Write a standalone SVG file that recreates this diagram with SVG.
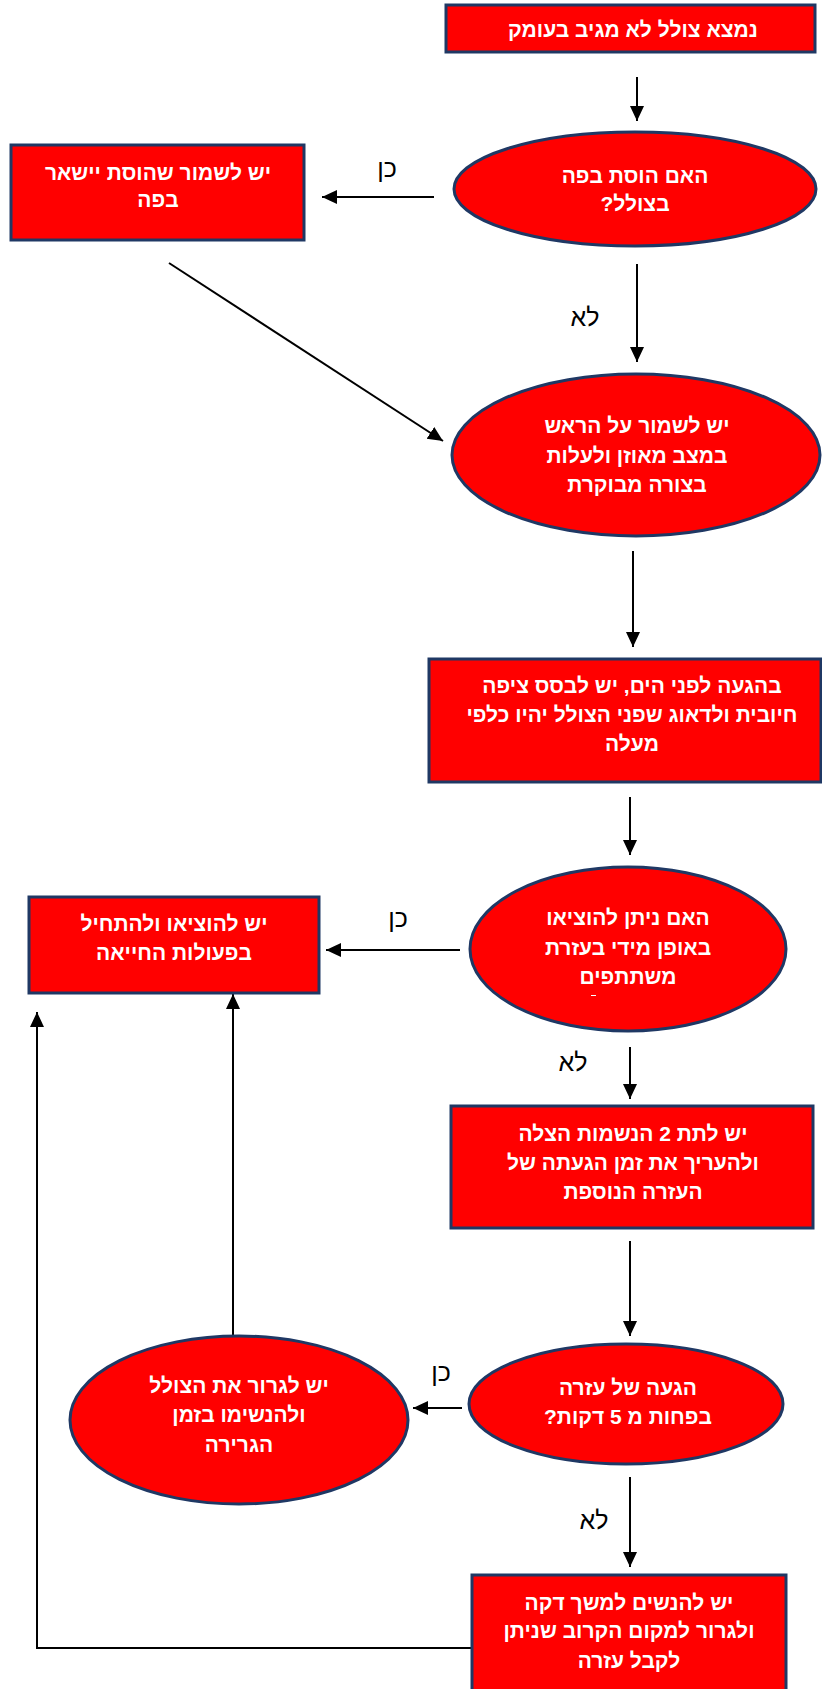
<svg xmlns="http://www.w3.org/2000/svg" width="822" height="1689" viewBox="0 0 822 1689">
<style>
.n{fill:#ff0000;stroke:#1f3864;stroke-width:3}
.t{font-family:"Liberation Sans",Arial,sans-serif;font-weight:bold;font-size:21px;fill:#ffffff;text-anchor:middle;direction:rtl}
.l{font-family:"Liberation Sans",Arial,sans-serif;font-size:25px;fill:#000000;text-anchor:middle;direction:rtl}
.c{fill:none;stroke:#000000;stroke-width:2}
</style>
<defs>
<marker id="ah" markerUnits="userSpaceOnUse" markerWidth="16" markerHeight="16" refX="15" refY="7" orient="auto">
<path d="M0,0 L15,7 L0,14 z" fill="#000000"/>
</marker>
</defs>
<rect width="822" height="1689" fill="#ffffff"/>
<g id="connectors">
<line class="c" x1="637" y1="77" x2="637" y2="121" marker-end="url(#ah)"/>
<line class="c" x1="434" y1="197" x2="322" y2="197" marker-end="url(#ah)"/>
<line class="c" x1="637" y1="264" x2="637" y2="362" marker-end="url(#ah)"/>
<line class="c" x1="169" y1="263" x2="443" y2="441" marker-end="url(#ah)"/>
<line class="c" x1="633" y1="551" x2="633" y2="647" marker-end="url(#ah)"/>
<line class="c" x1="630" y1="797" x2="630" y2="855" marker-end="url(#ah)"/>
<line class="c" x1="460" y1="950" x2="326" y2="950" marker-end="url(#ah)"/>
<line class="c" x1="630" y1="1047" x2="630" y2="1099" marker-end="url(#ah)"/>
<line class="c" x1="630" y1="1241" x2="630" y2="1336" marker-end="url(#ah)"/>
<line class="c" x1="462" y1="1408" x2="413" y2="1408" marker-end="url(#ah)"/>
<line class="c" x1="233" y1="1336" x2="233" y2="994" marker-end="url(#ah)"/>
<line class="c" x1="630" y1="1477" x2="630" y2="1567" marker-end="url(#ah)"/>
<polyline class="c" points="472,1648 37,1648 37,1012" marker-end="url(#ah)"/>
<text class="l" x="387" y="177">כן</text>
<text class="l" x="585" y="326">לא</text>
<text class="l" x="398" y="927">כן</text>
<text class="l" x="573" y="1071">לא</text>
<text class="l" x="441" y="1381">כן</text>
<text class="l" x="594" y="1529">לא</text>
</g>
<g id="n1">
<rect class="n" x="446" y="5" width="369" height="47"/>
<text class="t" x="633" y="37">נמצא צולל לא מגיב בעומק</text>
</g>
<g id="n2">
<ellipse class="n" cx="635" cy="189" rx="181" ry="57"/>
<text class="t" x="635" y="183">האם הוסת בפה</text>
<text class="t" x="635" y="211">בצולל?</text>
</g>
<g id="n3">
<rect class="n" x="11" y="145" width="293" height="95"/>
<text class="t" x="158" y="180">יש לשמור שהוסת יישאר</text>
<text class="t" x="158" y="207">בפה</text>
</g>
<g id="n4">
<ellipse class="n" cx="636" cy="455" rx="184" ry="81"/>
<text class="t" x="637" y="433">יש לשמור על הראש</text>
<text class="t" x="637" y="463">במצב מאוזן ולעלות</text>
<text class="t" x="637" y="492">בצורה מבוקרת</text>
</g>
<g id="n5">
<rect class="n" x="429" y="659" width="392" height="123"/>
<text class="t" x="632" y="693">בהגעה לפני הים, יש לבסס ציפה</text>
<text class="t" x="632" y="722">חיובית ולדאוג שפני הצולל יהיו כלפי</text>
<text class="t" x="632" y="751">מעלה</text>
</g>
<g id="n6">
<ellipse class="n" cx="628" cy="949" rx="158" ry="82"/>
<text class="t" x="628" y="925">האם ניתן להוציאו</text>
<text class="t" x="628" y="955">באופן מידי בעזרת</text>
<text class="t" x="628" y="984">משתתפים</text>
<rect x="591" y="995" width="5" height="1" fill="#ffffff"/>
</g>
<g id="n7">
<rect class="n" x="29" y="897" width="290" height="96"/>
<text class="t" x="174" y="931">יש להוציאו ולהתחיל</text>
<text class="t" x="174" y="960">בפעולות החייאה</text>
</g>
<g id="n8">
<rect class="n" x="451" y="1106" width="362" height="122"/>
<text class="t" x="633" y="1141">יש לתת 2 הנשמות הצלה</text>
<text class="t" x="633" y="1170">ולהעריך את זמן הגעתה של</text>
<text class="t" x="633" y="1199">העזרה הנוספת</text>
</g>
<g id="n9">
<ellipse class="n" cx="626" cy="1404" rx="157" ry="60"/>
<text class="t" x="628" y="1395">הגעה של עזרה</text>
<text class="t" x="628" y="1424">בפחות מ 5 דקות?</text>
</g>
<g id="n10">
<ellipse class="n" cx="239" cy="1420" rx="169" ry="84"/>
<text class="t" x="239" y="1393">יש לגרור את הצולל</text>
<text class="t" x="239" y="1422">ולהנשימו בזמן</text>
<text class="t" x="239" y="1452">הגרירה</text>
</g>
<g id="n11">
<rect class="n" x="472" y="1575" width="314" height="130"/>
<text class="t" x="629" y="1610">יש להנשים למשך דקה</text>
<text class="t" x="629" y="1638">ולגרור למקום הקרוב שניתן</text>
<text class="t" x="629" y="1668">לקבל עזרה</text>
</g>
</svg>
